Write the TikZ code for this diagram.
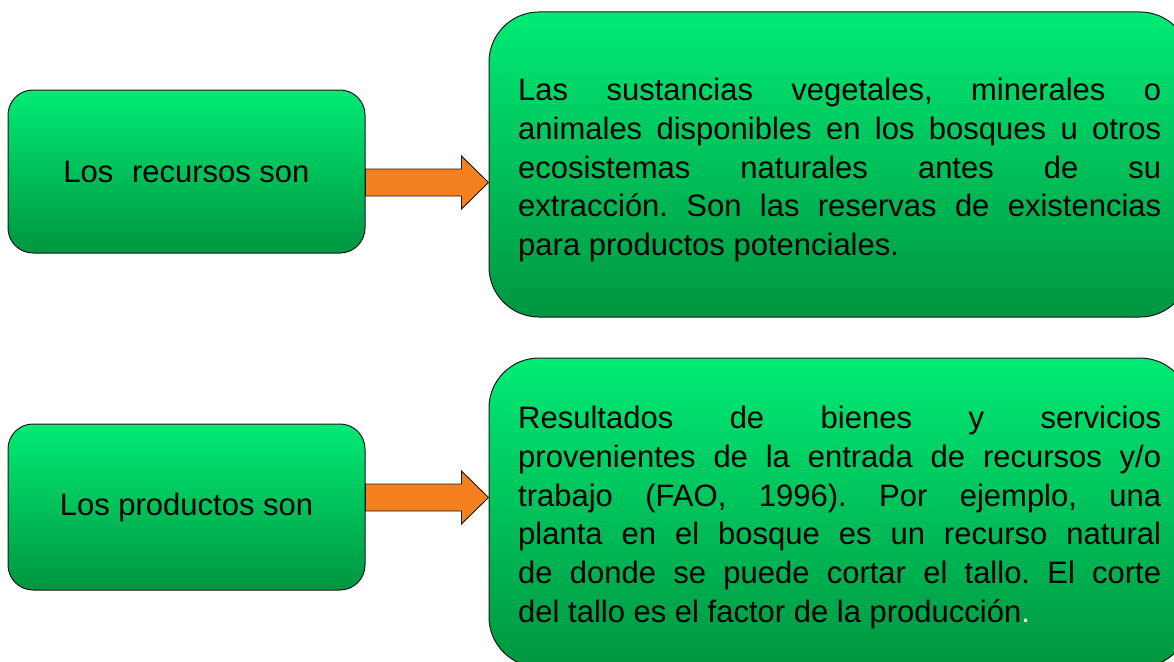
\documentclass[tikz,border=0pt]{standalone}
\usepackage{fontspec}
\setmainfont{Liberation Sans}
\usetikzlibrary{calc}
\definecolor{gtop}{RGB}{0,235,117}
\definecolor{gbot}{RGB}{0,150,63}
\definecolor{arrorange}{RGB}{245,128,32}
\definecolor{edge}{RGB}{25,25,25}
\tikzset{
  smallbox/.style={draw=edge, line width=1pt, rounded corners=25pt,
    top color=gtop, bottom color=gbot, minimum width=357pt, minimum height=163pt,
    inner sep=0pt, font=\fontsize{31}{38.7}\selectfont, text=black},
  bigbox/.style={draw=edge, line width=1pt, rounded corners=50pt,
    top color=gtop, bottom color=gbot, minimum width=701pt, inner sep=0pt},
  bodytext/.style={anchor=north west, inner sep=0pt, text width=643pt, align=justify,
    font=\fontsize{31}{38.7}\selectfont\frenchspacing, text=black},
  blockarrow/.style={draw=edge, line width=0.9pt, fill=arrorange, line join=miter}
}
\begin{document}
\begin{tikzpicture}[x=1pt,y=-1pt]
\useasboundingbox (0,0) rectangle (1174,661);
\clip (0,0) rectangle (1174,661);
% left boxes
\node[smallbox] (l1) at (186.5,171.5) {Los\hspace{0.6em}recursos son};
\node[smallbox, minimum height=166pt] (l2) at (186.5,507) {Los productos son};
% right boxes
\node[bigbox, minimum height=305pt] (r1) at (839.5,164.5) {};
\node[bigbox, minimum height=309pt] (r2) at (839.5,512.5) {};
% texts
\node[bodytext] (t1) at (518,78) {\hyphenpenalty=10000 Las sustancias vegetales, minerales o\linebreak animales disponibles en los bosques u otros\linebreak ecosistemas naturales antes de su\linebreak extracción. Son las reservas de existencias\linebreak para productos potenciales.};
\node[bodytext] (t2) at (518,406) {\hyphenpenalty=10000 Resultados de bienes y servicios\linebreak provenientes de la entrada de recursos y/o\linebreak trabajo (FAO, 1996). Por ejemplo, una\linebreak planta en el bosque es un recurso natural\linebreak de donde se puede cortar el tallo. El corte\linebreak del tallo es el factor de la producción{\color{white}.}};
% arrows
\coordinate (a1s) at ([shift={(0,11)}]l1.east);
\coordinate (a1e) at (r1.west |- a1s);
\coordinate (a2s) at ([shift={(0,-9.5)}]l2.east);
\coordinate (a2e) at (r2.west |- a2s);
\draw[blockarrow] ($(a1s)+(0,-13.5)$) -- ($(a1e)+(-27,-13.5)$) -- ($(a1e)+(-27,-26.5)$) -- (a1e)
  -- ($(a1e)+(-27,26.5)$) -- ($(a1e)+(-27,13.5)$) -- ($(a1s)+(0,13.5)$) -- cycle;
\draw[blockarrow] ($(a2s)+(0,-13.5)$) -- ($(a2e)+(-27,-13.5)$) -- ($(a2e)+(-27,-26.5)$) -- (a2e)
  -- ($(a2e)+(-27,26.5)$) -- ($(a2e)+(-27,13.5)$) -- ($(a2s)+(0,13.5)$) -- cycle;
\end{tikzpicture}
\end{document}
